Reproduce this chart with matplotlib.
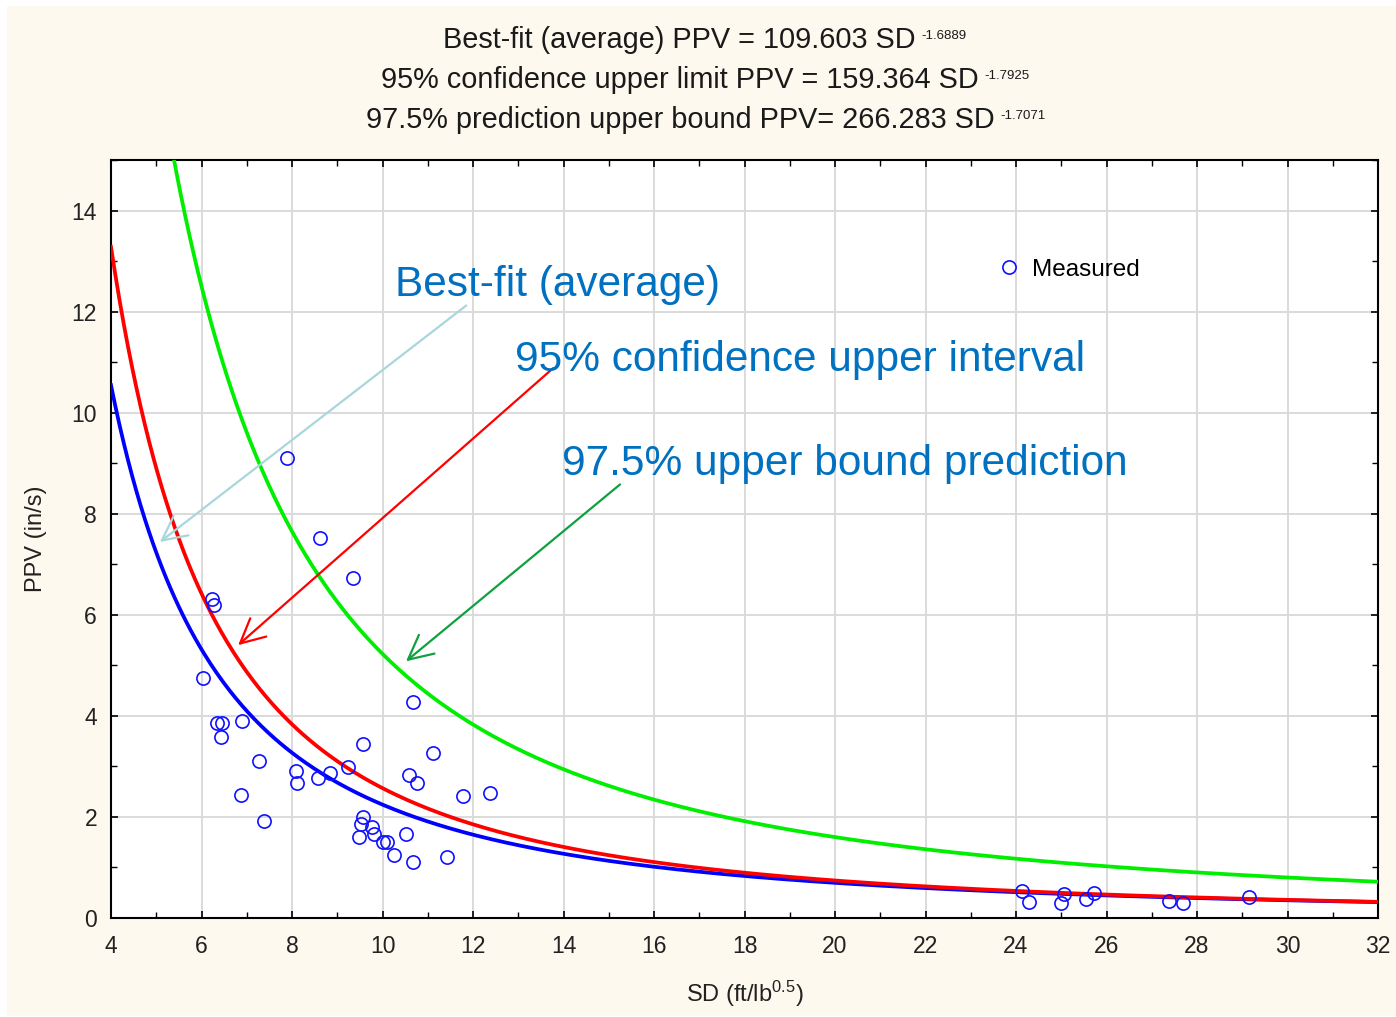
import numpy as np
import matplotlib
matplotlib.use("Agg")
import matplotlib.pyplot as plt
import matplotlib.ticker as mticker
from matplotlib.patches import Rectangle

# =====================================================
# DATA
# =====================================================

# measured points (SD, PPV)
sd_meas = [7.89, 8.62, 9.34, 6.23, 6.28, 6.03, 6.34, 6.45, 6.42, 6.90,
           7.26, 6.87, 7.38, 10.68, 9.58, 11.12, 8.09, 8.12, 8.58, 8.84,
           9.23, 10.59, 10.77, 11.79, 12.38, 9.58, 9.52, 9.76, 9.81, 9.47,
           10.00, 10.11, 10.52, 10.25, 10.68, 11.43,
           24.14, 24.29, 25.06, 24.99, 25.55, 25.72, 27.38, 27.68, 29.15]
ppv_meas = [9.10, 7.51, 6.72, 6.32, 6.20, 4.75, 3.86, 3.86, 3.59, 3.90,
            3.10, 2.44, 1.92, 4.27, 3.45, 3.27, 2.90, 2.68, 2.78, 2.87,
            2.99, 2.82, 2.68, 2.41, 2.48, 2.00, 1.86, 1.81, 1.66, 1.61,
            1.51, 1.51, 1.66, 1.24, 1.10, 1.21,
            0.53, 0.31, 0.48, 0.30, 0.37, 0.49, 0.34, 0.30, 0.42]

# fitted curves  PPV = K * SD ^ b  (coefficients from the title)
fit_names = ["Best-fit (average) PPV = 109.603 SD",
             "95% confidence upper limit PPV = 159.364 SD",
             "97.5% prediction upper bound PPV= 266.283 SD"]
fit_exps = ["-1.6889", "-1.7925", "-1.7071"]
fit_k = [109.603, 159.364, 266.283]
fit_b = [-1.6889, -1.7925, -1.7071]

# =====================================================
# STYLE
# =====================================================

plt.rcParams['font.family'] = ['Liberation Sans', 'DejaVu Sans']
plt.rcParams['mathtext.fontset'] = 'custom'
plt.rcParams['mathtext.rm'] = 'Liberation Sans'
plt.rcParams['mathtext.it'] = 'Liberation Sans'

W, H = 1396, 1017
fig = plt.figure(figsize=(W / 100, H / 100), dpi=100, facecolor='white')

# cream panel behind everything
fig.add_artist(Rectangle((7 / W, 1 / H), (W - 7) / W, (H - 7) / H,
                         transform=fig.transFigure, facecolor='#FEF9EE',
                         edgecolor='none', zorder=-10))

ax = fig.add_axes([111 / W, 1 - 918 / H, 1267 / W, 758 / H])
ax.set_facecolor('white')

# =====================================================
# CURVES + POINTS
# =====================================================

sd = np.linspace(4, 32, 600)
cores = {0: '#0000FF', 1: '#FF0000', 2: '#00EE00'}
for i in [2, 0, 1]:
    ax.plot(sd, fit_k[i] * sd ** fit_b[i], color=cores[i], lw=2.7, zorder=3)

ax.plot(sd_meas, ppv_meas, 'o', ms=9.5, mfc='none', mec='#1010FF',
        mew=1.2, label='Measured', zorder=4)

# =====================================================
# AXES
# =====================================================

ax.set_xlim(4, 32)
ax.set_ylim(0, 15)
ax.xaxis.set_major_locator(mticker.MultipleLocator(2))
ax.xaxis.set_minor_locator(mticker.MultipleLocator(1))
ax.yaxis.set_major_locator(mticker.MultipleLocator(2))
ax.yaxis.set_minor_locator(mticker.MultipleLocator(1))
ax.grid(which='major', color='#DADADA', lw=1.4, zorder=0)
ax.set_axisbelow(True)

ax.tick_params(which='both', direction='in', top=True, right=True,
               colors='black', labelcolor='#222222', labelsize=16.5)
ax.tick_params(which='major', length=5, width=1.2)
ax.tick_params(which='minor', length=4, width=1.0)
ax.tick_params(axis='x', pad=12)
ax.tick_params(axis='y', pad=10)
for s in ax.spines.values():
    s.set_linewidth(1.5)

ax.set_xlabel("SD (ft/lb$^{\\mathrm{0.5}}$)", fontsize=17, color='#222222',
              labelpad=15)
ax.set_ylabel("PPV (in/s)", fontsize=17, color='#222222', labelpad=18)

leg = ax.legend(loc='center left', bbox_to_anchor=(0.701, 0.855),
                frameon=False, handlelength=0.8, handletextpad=0.55,
                borderpad=0, borderaxespad=0, fontsize=17.5)

# =====================================================
# ANNOTATIONS
# =====================================================

azul_txt = '#0070C0'
ax.text(10.28, 12.31, "Best-fit (average)", fontsize=30.5, color=azul_txt,
        ha='left', va='baseline', zorder=6)
ax.text(12.92, 10.82, "95% confidence upper interval", fontsize=30.5,
        color=azul_txt, ha='left', va='baseline', zorder=6)
ax.text(13.96, 8.76, "97.5% upper bound prediction", fontsize=30.5,
        color=azul_txt, ha='left', va='baseline', zorder=6)

setas = [
    ((11.85, 12.12), (5.08, 7.44), '#A9D6DC'),
    ((13.77, 10.88), (6.81, 5.40), '#FF0000'),
    ((15.25, 8.58), (10.52, 5.08), '#10A040'),
]
for tail, head, c in setas:
    ax.annotate("", xy=head, xytext=tail,
                arrowprops=dict(arrowstyle='->,head_length=0.7,head_width=0.35',
                                color=c, lw=1.6, mutation_scale=25,
                                shrinkA=0, shrinkB=0), zorder=5)

# =====================================================
# TITLE (three lines with small exponents)
# =====================================================

x_ini = [443, 381, 366]
y_cen = [40, 80, 120]
fig.canvas.draw()
rend = fig.canvas.get_renderer()
for nome, expo, x0, y0 in zip(fit_names, fit_exps, x_ini, y_cen):
    t = fig.text(x0 / W, 1 - y0 / H, nome, fontsize=20.8, color='#1a1a1a',
                 ha='left', va='center')
    bb = t.get_window_extent(renderer=rend)
    fig.text((bb.x1 + 6) / W, 1 - (y0 - 4) / H, expo, fontsize=9.5,
             color='#1a1a1a', ha='left', va='center')

plt.savefig('out.png', dpi=100, facecolor=fig.get_facecolor())
